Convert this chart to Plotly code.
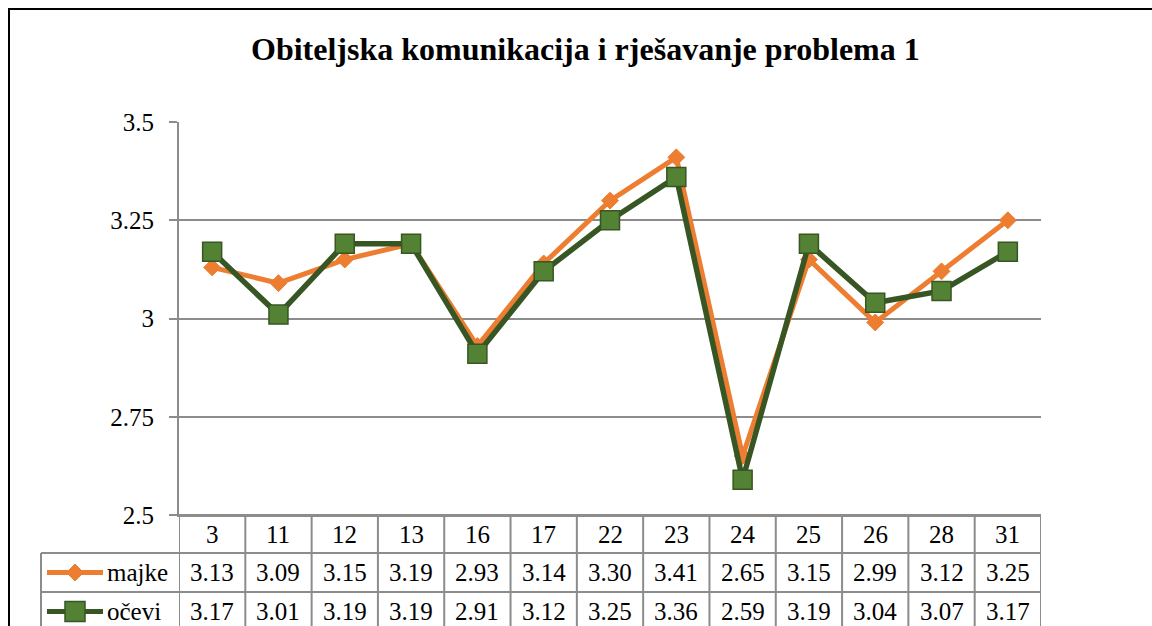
import plotly.graph_objects as go

categories = ["3", "11", "12", "13", "16", "17", "22", "23", "24", "25", "26", "28", "31"]
majke = [3.13, 3.09, 3.15, 3.19, 2.93, 3.14, 3.30, 3.41, 2.65, 3.15, 2.99, 3.12, 3.25]
ocevi = [3.17, 3.01, 3.19, 3.19, 2.91, 3.12, 3.25, 3.36, 2.59, 3.19, 3.04, 3.07, 3.17]
series_names = ["majke", "očevi"]
y_ticks = [2.5, 2.75, 3, 3.25, 3.5]
y_ticktext = ["2.5", "2.75", "3", "3.25", "3.5"]
title = "Obiteljska komunikacija i rješavanje problema 1"

W, H = 1152, 626
FONT = "Liberation Serif"
GRID = "#8c8c8c"
ORANGE = "#ED7D31"
GREEN_FILL = "#548235"
GREEN_LINE = "#375623"

def px(x):
    return x / W

def py(y):
    return 1 - y / H

plot_left, plot_right = 179, 1041
plot_top, plot_bottom = 122, 515
row_lines = [515, 553, 592, 631]
legend_left = 41

fig = go.Figure()
fig.add_trace(go.Scatter(
    x=categories, y=majke, mode="lines+markers", name=series_names[0],
    line=dict(color=ORANGE, width=5),
    marker=dict(symbol="diamond", size=13, color=ORANGE, line=dict(color=ORANGE, width=1)),
))
fig.add_trace(go.Scatter(
    x=categories, y=ocevi, mode="lines+markers", name=series_names[1],
    line=dict(color=GREEN_LINE, width=5.5),
    marker=dict(symbol="square", size=19, color=GREEN_FILL, line=dict(color=GREEN_LINE, width=1.5)),
))

shapes = []
annotations = []
n = len(categories)
# outer border
shapes.append(dict(type="rect", xref="paper", yref="paper", x0=px(9), x1=1.2, y0=py(9), y1=-0.2,
                   line=dict(color="black", width=2), fillcolor="rgba(0,0,0,0)", layer="below"))
# table horizontal lines
shapes.append(dict(type="line", xref="paper", yref="paper", x0=px(plot_left), x1=px(plot_right),
                   y0=py(row_lines[0]), y1=py(row_lines[0]), line=dict(color=GRID, width=2)))
for r in row_lines[1:]:
    shapes.append(dict(type="line", xref="paper", yref="paper", x0=px(legend_left), x1=px(plot_right),
                       y0=py(r), y1=py(r), line=dict(color=GRID, width=2)))
# vertical lines
shapes.append(dict(type="line", xref="paper", yref="paper", x0=px(legend_left), x1=px(legend_left),
                   y0=py(row_lines[1]), y1=py(row_lines[-1]), line=dict(color=GRID, width=2)))
for i in range(n + 1):
    shapes.append(dict(type="line", xref="x", yref="paper", x0=i - 0.5, x1=i - 0.5,
                       y0=py(row_lines[0]), y1=py(row_lines[-1]), line=dict(color=GRID, width=2)))

row_centers = [(row_lines[k] + row_lines[k + 1]) / 2 for k in range(3)]
cell_font = dict(family=FONT, size=25, color="black")
for i, c in enumerate(categories):
    for r, txt in enumerate([c, f"{majke[i]:.2f}", f"{ocevi[i]:.2f}"]):
        annotations.append(dict(x=i, y=py(row_centers[r]), xref="x", yref="paper", text=txt,
                                xanchor="center", yanchor="middle", showarrow=False, font=cell_font))

# legend keys
for k, (name, col) in enumerate([(series_names[0], ORANGE), (series_names[1], GREEN_LINE)]):
    yc = row_centers[k + 1]
    shapes.append(dict(type="line", xref="paper", yref="paper", x0=px(47), x1=px(103),
                       y0=py(yc), y1=py(yc), line=dict(color=col, width=5)))
    if k == 0:
        path = f"M {px(75-8.5)},{py(yc)} L {px(75)},{py(yc-8.5)} L {px(75+8.5)},{py(yc)} L {px(75)},{py(yc+8.5)} Z"
        shapes.append(dict(type="path", xref="paper", yref="paper", path=path,
                           fillcolor=ORANGE, line=dict(color=ORANGE, width=1)))
    else:
        shapes.append(dict(type="rect", xref="paper", yref="paper", x0=px(65), x1=px(85),
                           y0=py(yc + 10), y1=py(yc - 10), fillcolor=GREEN_FILL,
                           line=dict(color=GREEN_LINE, width=1.5)))
    annotations.append(dict(x=px(105), y=py(yc), xref="paper", yref="paper", text=name,
                            xanchor="left", yanchor="middle", showarrow=False, font=cell_font))

annotations.append(dict(x=px(585), y=py(49), xref="paper", yref="paper", text=f"<b>{title}</b>",
                        xanchor="center", yanchor="middle",
                        showarrow=False, font=dict(family=FONT, size=32, color="black")))

fig.update_layout(
    width=W, height=H, margin=dict(l=0, r=0, t=0, b=0, autoexpand=False),
    paper_bgcolor="white", plot_bgcolor="white", showlegend=False,
    font=dict(family=FONT),
    shapes=shapes, annotations=annotations,
    xaxis=dict(domain=[px(plot_left), px(plot_right)], type="category", range=[-0.5, n - 0.5],
               showticklabels=False, showgrid=False, ticks="", showline=True,
               linecolor=GRID, linewidth=2, zeroline=False, fixedrange=True),
    yaxis=dict(domain=[py(plot_bottom), py(plot_top)], range=[2.5, 3.5], tickvals=y_ticks,
               ticktext=y_ticktext, showgrid=True, gridcolor=GRID, gridwidth=2,
               ticks="outside", ticklen=8, tickwidth=2, tickcolor=GRID,
               showline=True, linecolor=GRID, linewidth=2, zeroline=False,
               ticklabelstandoff=10, tickfont=dict(family=FONT, size=25, color="black"),
               fixedrange=True, automargin=False),
)

fig.write_html("out.html", config={"displayModeBar": False},
               post_script="document.body.style.margin='0';document.body.style.overflow='hidden';")
